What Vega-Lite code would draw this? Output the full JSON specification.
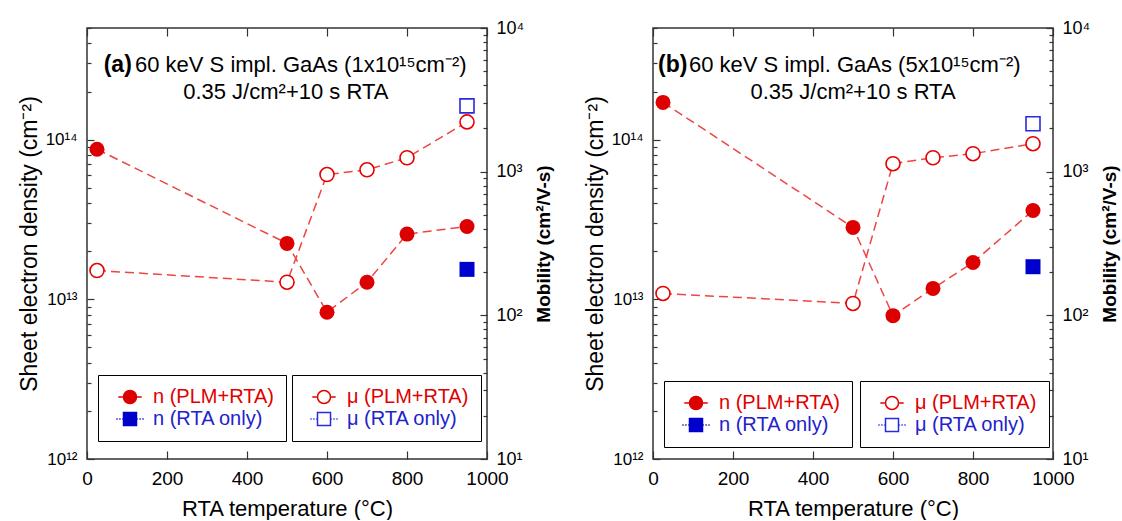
{
  "$schema": "https://vega.github.io/schema/vega-lite/v6.json",
  "background": "white",
  "padding": {"left": 17, "top": 18, "right": 0, "bottom": 0},
  "spacing": 28,
  "datasets": {
    "pa": [
      {"series": "n (PLM+RTA)", "T": 25, "v": 8.7e13},
      {"series": "n (PLM+RTA)", "T": 500, "v": 2.24e13},
      {"series": "n (PLM+RTA)", "T": 600, "v": 8.3e12},
      {"series": "n (PLM+RTA)", "T": 700, "v": 1.28e13},
      {"series": "n (PLM+RTA)", "T": 800, "v": 2.56e13},
      {"series": "n (PLM+RTA)", "T": 950, "v": 2.86e13},
      {"series": "n (RTA only)", "T": 950, "v": 1.54e13},
      {"series": "μ (PLM+RTA)", "T": 25, "v": 205},
      {"series": "μ (PLM+RTA)", "T": 500, "v": 170},
      {"series": "μ (PLM+RTA)", "T": 600, "v": 955},
      {"series": "μ (PLM+RTA)", "T": 700, "v": 1030},
      {"series": "μ (PLM+RTA)", "T": 800, "v": 1250},
      {"series": "μ (PLM+RTA)", "T": 950, "v": 2220},
      {"series": "μ (RTA only)", "T": 950, "v": 2870}
    ],
    "pb": [
      {"series": "n (PLM+RTA)", "T": 25, "v": 1.71e14},
      {"series": "n (PLM+RTA)", "T": 500, "v": 2.82e13},
      {"series": "n (PLM+RTA)", "T": 600, "v": 7.9e12},
      {"series": "n (PLM+RTA)", "T": 700, "v": 1.17e13},
      {"series": "n (PLM+RTA)", "T": 800, "v": 1.7e13},
      {"series": "n (PLM+RTA)", "T": 950, "v": 3.6e13},
      {"series": "n (RTA only)", "T": 950, "v": 1.6e13},
      {"series": "μ (PLM+RTA)", "T": 25, "v": 142},
      {"series": "μ (PLM+RTA)", "T": 500, "v": 121},
      {"series": "μ (PLM+RTA)", "T": 600, "v": 1136},
      {"series": "μ (PLM+RTA)", "T": 700, "v": 1250},
      {"series": "μ (PLM+RTA)", "T": 800, "v": 1333},
      {"series": "μ (PLM+RTA)", "T": 950, "v": 1565},
      {"series": "μ (RTA only)", "T": 950, "v": 2155}
    ]
  },
  "hconcat": [
    {
      "width": 400,
      "height": 431,
      "data": {"name": "pa"},
      "layer": [
        {
          "layer": [
            {"transform": [{"filter": "datum.series == 'n (PLM+RTA)'"}],
             "mark": {"type": "line", "color": "#ee4444", "strokeDash": [9, 5], "strokeWidth": 1.5},
             "encoding": {
               "x": {"field": "T", "type": "quantitative", "scale": {"domain": [0, 1000], "nice": false, "zero": false},
                 "axis": {"orient": "bottom", "title": "RTA temperature (°C)", "values": [0,50,100,150,200,250,300,350,400,450,500,550,600,650,700,750,800,850,900,950,1000],
                   "labelExpr": "datum.value % 200 == 0 ? format(datum.value, 'd') : ''",
                   "tickSize": -8, "tickDash": {"condition": {"test": "datum.value % 200 == 0", "value": [10, 0]}, "value": [4, 20]},
                   "labelPadding": 18, "labelFontSize": 19, "labelFont": "Liberation Sans", "labelColor": "#000", "labelFlush": false, "labelOverlap": false,
                   "titleFontSize": 22, "titleFont": "Liberation Sans", "titleFontWeight": "normal", "titleColor": "#000", "titlePadding": 10,
                   "domain": false, "grid": false, "tickColor": "#333", "tickWidth": 1.2}},
               "y": {"field": "v", "type": "quantitative", "scale": {"type": "log", "domain": [1e12, 5e14], "nice": false},
                 "axis": {"orient": "left", "title": "Sheet electron density (cm⁻²)",
                   "values": [1e12,2e12,3e12,4e12,5e12,6e12,7e12,8e12,9e12,1e13,2e13,3e13,4e13,5e13,6e13,7e13,8e13,9e13,1e14,2e14,3e14,4e14,5e14],
                   "labelExpr": "datum.value == 1e12 ? '10¹²' : datum.value == 1e13 ? '10¹³' : datum.value == 1e14 ? '10¹⁴' : ''",
                   "tickSize": -7, "tickDash": {"condition": {"test": "datum.value == 1e12 || datum.value == 1e13 || datum.value == 1e14", "value": [10, 0]}, "value": [4, 20]},
                   "labelPadding": 17, "labelFontSize": 17, "labelFont": "Liberation Sans", "labelColor": "#000", "labelFlush": false, "labelOverlap": false,
                   "titleFontSize": 23, "titleFont": "Liberation Sans", "titleFontWeight": "normal", "titleColor": "#000", "titlePadding": 4,
                   "domain": false, "grid": false, "tickColor": "#333", "tickWidth": 1.2}}
             }},
            {"transform": [{"filter": "datum.series == 'n (PLM+RTA)'"}],
             "mark": {"type": "point", "shape": "circle", "filled": true, "size": 225, "opacity": 1},
             "encoding": {
               "x": {"field": "T", "type": "quantitative"},
               "y": {"field": "v", "type": "quantitative"},
               "color": {"field": "series", "type": "nominal", "scale": {"domain": ["n (PLM+RTA)", "n (RTA only)"], "range": ["#dd0000", "#0000cc"]},
                 "legend": {"orient": "none", "legendX": 11, "legendY": 347, "title": null, "padding": 12, "symbolOffset": 10, "labelOffset": 13, "rowPadding": 2,
                   "strokeColor": "#000", "fillColor": "white", "symbolSize": 169, "symbolStrokeWidth": 1.5,
                   "labelFont": "Liberation Sans", "labelFontSize": 20, "labelLimit": 300,
                   "labelExpr": "datum.label + '\u00a0\u00a0'",
                   "labelColor": {"expr": "indexof(datum.value, 'RTA only') >= 0 ? '#2222cc' : '#e00000'"},
                   "symbolStrokeColor": {"expr": "datum.value == 'n (RTA only)' ? '#0000cc' : '#dd0000'"},
                   "symbolType": {"expr": "datum.value == 'n (RTA only)' ? 'M-2.1,0H-1.9M-1.65,0H-1.45M-1.2,0H-1M1,0H1.2M1.45,0H1.65M1.9,0H2.1M-1,-1H1V1H-1Z' : 'M-1.8,0H-1M1,0H1.8M-1,0A1,1 0 1,1 1,0A1,1 0 1,1 -1,0Z'"}}}
             }},
            {"transform": [{"filter": "datum.series == 'n (RTA only)'"}],
             "mark": {"type": "point", "shape": "square", "filled": true, "size": 225, "opacity": 1},
             "encoding": {
               "x": {"field": "T", "type": "quantitative"},
               "y": {"field": "v", "type": "quantitative"},
               "color": {"field": "series", "type": "nominal", "scale": {"domain": ["n (PLM+RTA)", "n (RTA only)"], "range": ["#dd0000", "#0000cc"]},
                 "legend": {"orient": "none", "legendX": 11, "legendY": 347, "title": null, "padding": 12, "symbolOffset": 10, "labelOffset": 13, "rowPadding": 2,
                   "strokeColor": "#000", "fillColor": "white", "symbolSize": 169, "symbolStrokeWidth": 1.5,
                   "labelFont": "Liberation Sans", "labelFontSize": 20, "labelLimit": 300,
                   "labelExpr": "datum.label + '\u00a0\u00a0'",
                   "labelColor": {"expr": "indexof(datum.value, 'RTA only') >= 0 ? '#2222cc' : '#e00000'"},
                   "symbolStrokeColor": {"expr": "datum.value == 'n (RTA only)' ? '#0000cc' : '#dd0000'"},
                   "symbolType": {"expr": "datum.value == 'n (RTA only)' ? 'M-2.1,0H-1.9M-1.65,0H-1.45M-1.2,0H-1M1,0H1.2M1.45,0H1.65M1.9,0H2.1M-1,-1H1V1H-1Z' : 'M-1.8,0H-1M1,0H1.8M-1,0A1,1 0 1,1 1,0A1,1 0 1,1 -1,0Z'"}}}
             }},
            {"data": {"values": [{}]}, "mark": {"type": "text", "align": "right", "baseline": "middle", "font": "Liberation Sans", "fontSize": 23, "fontWeight": "bold", "color": "#000"},
             "encoding": {"x": {"datum": 112, "type": "quantitative"}, "y": {"datum": 2.94e14, "type": "quantitative"}, "text": {"value": "(a)"}}},
            {"data": {"values": [{}]}, "mark": {"type": "text", "align": "left", "baseline": "middle", "font": "Liberation Sans", "fontSize": 22, "color": "#000"},
             "encoding": {"x": {"datum": 120, "type": "quantitative"}, "y": {"datum": 2.94e14, "type": "quantitative"}, "text": {"value": "60 keV S impl. GaAs (1x10¹⁵cm⁻²)"}}},
            {"data": {"values": [{}]}, "mark": {"type": "text", "align": "center", "baseline": "middle", "font": "Liberation Sans", "fontSize": 22, "color": "#000"},
             "encoding": {"x": {"datum": 497, "type": "quantitative"}, "y": {"datum": 2.0e14, "type": "quantitative"}, "text": {"value": "0.35 J/cm²+10 s RTA"}}}
          ]
        },
        {
          "layer": [
            {"transform": [{"filter": "datum.series == 'μ (PLM+RTA)'"}],
             "mark": {"type": "line", "color": "#ee4444", "strokeDash": [9, 5], "strokeWidth": 1.5},
             "encoding": {
               "x": {"field": "T", "type": "quantitative", "scale": {"domain": [0, 1000], "nice": false, "zero": false},
                 "axis": {"orient": "top", "title": null, "labels": false, "values": [0,50,100,150,200,250,300,350,400,450,500,550,600,650,700,750,800,850,900,950,1000],
                   "tickSize": -8, "tickDash": {"condition": {"test": "datum.value % 200 == 0", "value": [10, 0]}, "value": [4, 20]},
                   "domain": false, "grid": false, "tickColor": "#333", "tickWidth": 1.2}},
               "y": {"field": "v", "type": "quantitative", "scale": {"type": "log", "domain": [10, 10000], "nice": false},
                 "axis": {"orient": "right", "title": "Mobility (cm²/V-s)",
                   "values": [10,20,30,40,50,60,70,80,90,100,200,300,400,500,600,700,800,900,1000,2000,3000,4000,5000,6000,7000,8000,9000,10000],
                   "labelExpr": "datum.value == 10 ? '10¹' : datum.value == 100 ? '10²' : datum.value == 1000 ? '10³' : datum.value == 10000 ? '10⁴' : ''",
                   "tickSize": -7, "tickDash": {"condition": {"test": "datum.value == 10 || datum.value == 100 || datum.value == 1000 || datum.value == 10000", "value": [10, 0]}, "value": [4, 20]},
                   "labelPadding": 16, "labelFontSize": 18, "labelFont": "Liberation Sans", "labelColor": "#000", "labelFlush": false, "labelOverlap": false,
                   "titleFontSize": 19, "titleFont": "Liberation Sans", "titleFontWeight": "bold", "titleColor": "#000", "titlePadding": 11, "titleAngle": 270, "titleBaseline": "top",
                   "domain": false, "grid": false, "tickColor": "#333", "tickWidth": 1.2}}
             }},
            {"transform": [{"filter": "datum.series == 'μ (PLM+RTA)'"}],
             "mark": {"type": "point", "shape": "circle", "filled": false, "fill": "white", "size": 196, "strokeWidth": 1.6, "opacity": 1},
             "encoding": {
               "x": {"field": "T", "type": "quantitative"},
               "y": {"field": "v", "type": "quantitative"},
               "color": {"field": "series", "type": "nominal", "scale": {"domain": ["μ (PLM+RTA)", "μ (RTA only)"], "range": ["#e60000", "#2a2ae0"]},
                 "legend": {"orient": "none", "legendX": 205, "legendY": 347, "title": null, "padding": 12, "symbolOffset": 10, "labelOffset": 13, "rowPadding": 2,
                   "strokeColor": "#000", "fillColor": "white", "symbolSize": 169, "symbolStrokeWidth": 1.5,
                   "labelFont": "Liberation Sans", "labelFontSize": 20, "labelLimit": 300,
                   "labelColor": {"expr": "indexof(datum.value, 'RTA only') >= 0 ? '#2222cc' : '#e00000'"},
                   "symbolType": {"expr": "datum.value == 'μ (RTA only)' ? 'M-2.1,0H-1.9M-1.65,0H-1.45M-1.2,0H-1M1,0H1.2M1.45,0H1.65M1.9,0H2.1M-1,-1H1V1H-1Z' : 'M-1.8,0H-1M1,0H1.8M-1,0A1,1 0 1,1 1,0A1,1 0 1,1 -1,0Z'"}}}
             }},
            {"transform": [{"filter": "datum.series == 'μ (RTA only)'"}],
             "mark": {"type": "point", "shape": "square", "filled": false, "fill": "white", "size": 196, "strokeWidth": 1.6, "opacity": 1},
             "encoding": {
               "x": {"field": "T", "type": "quantitative"},
               "y": {"field": "v", "type": "quantitative"},
               "color": {"field": "series", "type": "nominal", "scale": {"domain": ["μ (PLM+RTA)", "μ (RTA only)"], "range": ["#e60000", "#2a2ae0"]},
                 "legend": {"orient": "none", "legendX": 205, "legendY": 347, "title": null, "padding": 12, "symbolOffset": 10, "labelOffset": 13, "rowPadding": 2,
                   "strokeColor": "#000", "fillColor": "white", "symbolSize": 169, "symbolStrokeWidth": 1.5,
                   "labelFont": "Liberation Sans", "labelFontSize": 20, "labelLimit": 300,
                   "labelColor": {"expr": "indexof(datum.value, 'RTA only') >= 0 ? '#2222cc' : '#e00000'"},
                   "symbolType": {"expr": "datum.value == 'μ (RTA only)' ? 'M-2.1,0H-1.9M-1.65,0H-1.45M-1.2,0H-1M1,0H1.2M1.45,0H1.65M1.9,0H2.1M-1,-1H1V1H-1Z' : 'M-1.8,0H-1M1,0H1.8M-1,0A1,1 0 1,1 1,0A1,1 0 1,1 -1,0Z'"}}}
             }}
          ]
        }
      ],
      "resolve": {"scale": {"x": "independent", "y": "independent", "color": "independent"}}
    },
    {
      "width": 400,
      "height": 431,
      "data": {"name": "pb"},
      "layer": [
        {
          "layer": [
            {"transform": [{"filter": "datum.series == 'n (PLM+RTA)'"}],
             "mark": {"type": "line", "color": "#ee4444", "strokeDash": [9, 5], "strokeWidth": 1.5},
             "encoding": {
               "x": {"field": "T", "type": "quantitative", "scale": {"domain": [0, 1000], "nice": false, "zero": false},
                 "axis": {"orient": "bottom", "title": "RTA temperature (°C)", "values": [0,50,100,150,200,250,300,350,400,450,500,550,600,650,700,750,800,850,900,950,1000],
                   "labelExpr": "datum.value % 200 == 0 ? format(datum.value, 'd') : ''",
                   "tickSize": -8, "tickDash": {"condition": {"test": "datum.value % 200 == 0", "value": [10, 0]}, "value": [4, 20]},
                   "labelPadding": 18, "labelFontSize": 19, "labelFont": "Liberation Sans", "labelColor": "#000", "labelFlush": false, "labelOverlap": false,
                   "titleFontSize": 22, "titleFont": "Liberation Sans", "titleFontWeight": "normal", "titleColor": "#000", "titlePadding": 10,
                   "domain": false, "grid": false, "tickColor": "#333", "tickWidth": 1.2}},
               "y": {"field": "v", "type": "quantitative", "scale": {"type": "log", "domain": [1e12, 5e14], "nice": false},
                 "axis": {"orient": "left", "title": "Sheet electron density (cm⁻²)",
                   "values": [1e12,2e12,3e12,4e12,5e12,6e12,7e12,8e12,9e12,1e13,2e13,3e13,4e13,5e13,6e13,7e13,8e13,9e13,1e14,2e14,3e14,4e14,5e14],
                   "labelExpr": "datum.value == 1e12 ? '10¹²' : datum.value == 1e13 ? '10¹³' : datum.value == 1e14 ? '10¹⁴' : ''",
                   "tickSize": -7, "tickDash": {"condition": {"test": "datum.value == 1e12 || datum.value == 1e13 || datum.value == 1e14", "value": [10, 0]}, "value": [4, 20]},
                   "labelPadding": 17, "labelFontSize": 17, "labelFont": "Liberation Sans", "labelColor": "#000", "labelFlush": false, "labelOverlap": false,
                   "titleFontSize": 23, "titleFont": "Liberation Sans", "titleFontWeight": "normal", "titleColor": "#000", "titlePadding": 4,
                   "domain": false, "grid": false, "tickColor": "#333", "tickWidth": 1.2}}
             }},
            {"transform": [{"filter": "datum.series == 'n (PLM+RTA)'"}],
             "mark": {"type": "point", "shape": "circle", "filled": true, "size": 225, "opacity": 1},
             "encoding": {
               "x": {"field": "T", "type": "quantitative"},
               "y": {"field": "v", "type": "quantitative"},
               "color": {"field": "series", "type": "nominal", "scale": {"domain": ["n (PLM+RTA)", "n (RTA only)"], "range": ["#dd0000", "#0000cc"]},
                 "legend": {"orient": "none", "legendX": 11, "legendY": 353, "title": null, "padding": 12, "symbolOffset": 10, "labelOffset": 13, "rowPadding": 2,
                   "strokeColor": "#000", "fillColor": "white", "symbolSize": 169, "symbolStrokeWidth": 1.5,
                   "labelFont": "Liberation Sans", "labelFontSize": 20, "labelLimit": 300,
                   "labelExpr": "datum.label + '\u00a0\u00a0'",
                   "labelColor": {"expr": "indexof(datum.value, 'RTA only') >= 0 ? '#2222cc' : '#e00000'"},
                   "symbolStrokeColor": {"expr": "datum.value == 'n (RTA only)' ? '#0000cc' : '#dd0000'"},
                   "symbolType": {"expr": "datum.value == 'n (RTA only)' ? 'M-2.1,0H-1.9M-1.65,0H-1.45M-1.2,0H-1M1,0H1.2M1.45,0H1.65M1.9,0H2.1M-1,-1H1V1H-1Z' : 'M-1.8,0H-1M1,0H1.8M-1,0A1,1 0 1,1 1,0A1,1 0 1,1 -1,0Z'"}}}
             }},
            {"transform": [{"filter": "datum.series == 'n (RTA only)'"}],
             "mark": {"type": "point", "shape": "square", "filled": true, "size": 225, "opacity": 1},
             "encoding": {
               "x": {"field": "T", "type": "quantitative"},
               "y": {"field": "v", "type": "quantitative"},
               "color": {"field": "series", "type": "nominal", "scale": {"domain": ["n (PLM+RTA)", "n (RTA only)"], "range": ["#dd0000", "#0000cc"]},
                 "legend": {"orient": "none", "legendX": 11, "legendY": 353, "title": null, "padding": 12, "symbolOffset": 10, "labelOffset": 13, "rowPadding": 2,
                   "strokeColor": "#000", "fillColor": "white", "symbolSize": 169, "symbolStrokeWidth": 1.5,
                   "labelFont": "Liberation Sans", "labelFontSize": 20, "labelLimit": 300,
                   "labelExpr": "datum.label + '\u00a0\u00a0'",
                   "labelColor": {"expr": "indexof(datum.value, 'RTA only') >= 0 ? '#2222cc' : '#e00000'"},
                   "symbolStrokeColor": {"expr": "datum.value == 'n (RTA only)' ? '#0000cc' : '#dd0000'"},
                   "symbolType": {"expr": "datum.value == 'n (RTA only)' ? 'M-2.1,0H-1.9M-1.65,0H-1.45M-1.2,0H-1M1,0H1.2M1.45,0H1.65M1.9,0H2.1M-1,-1H1V1H-1Z' : 'M-1.8,0H-1M1,0H1.8M-1,0A1,1 0 1,1 1,0A1,1 0 1,1 -1,0Z'"}}}
             }},
            {"data": {"values": [{}]}, "mark": {"type": "text", "align": "right", "baseline": "middle", "font": "Liberation Sans", "fontSize": 23, "fontWeight": "bold", "color": "#000"},
             "encoding": {"x": {"datum": 86, "type": "quantitative"}, "y": {"datum": 2.94e14, "type": "quantitative"}, "text": {"value": "(b)"}}},
            {"data": {"values": [{}]}, "mark": {"type": "text", "align": "left", "baseline": "middle", "font": "Liberation Sans", "fontSize": 22, "color": "#000"},
             "encoding": {"x": {"datum": 90, "type": "quantitative"}, "y": {"datum": 2.94e14, "type": "quantitative"}, "text": {"value": "60 keV S impl. GaAs (5x10¹⁵cm⁻²)"}}},
            {"data": {"values": [{}]}, "mark": {"type": "text", "align": "center", "baseline": "middle", "font": "Liberation Sans", "fontSize": 22, "color": "#000"},
             "encoding": {"x": {"datum": 500, "type": "quantitative"}, "y": {"datum": 2.0e14, "type": "quantitative"}, "text": {"value": "0.35 J/cm²+10 s RTA"}}}
          ]
        },
        {
          "layer": [
            {"transform": [{"filter": "datum.series == 'μ (PLM+RTA)'"}],
             "mark": {"type": "line", "color": "#ee4444", "strokeDash": [9, 5], "strokeWidth": 1.5},
             "encoding": {
               "x": {"field": "T", "type": "quantitative", "scale": {"domain": [0, 1000], "nice": false, "zero": false},
                 "axis": {"orient": "top", "title": null, "labels": false, "values": [0,50,100,150,200,250,300,350,400,450,500,550,600,650,700,750,800,850,900,950,1000],
                   "tickSize": -8, "tickDash": {"condition": {"test": "datum.value % 200 == 0", "value": [10, 0]}, "value": [4, 20]},
                   "domain": false, "grid": false, "tickColor": "#333", "tickWidth": 1.2}},
               "y": {"field": "v", "type": "quantitative", "scale": {"type": "log", "domain": [10, 10000], "nice": false},
                 "axis": {"orient": "right", "title": "Mobility (cm²/V-s)",
                   "values": [10,20,30,40,50,60,70,80,90,100,200,300,400,500,600,700,800,900,1000,2000,3000,4000,5000,6000,7000,8000,9000,10000],
                   "labelExpr": "datum.value == 10 ? '10¹' : datum.value == 100 ? '10²' : datum.value == 1000 ? '10³' : datum.value == 10000 ? '10⁴' : ''",
                   "tickSize": -7, "tickDash": {"condition": {"test": "datum.value == 10 || datum.value == 100 || datum.value == 1000 || datum.value == 10000", "value": [10, 0]}, "value": [4, 20]},
                   "labelPadding": 16, "labelFontSize": 18, "labelFont": "Liberation Sans", "labelColor": "#000", "labelFlush": false, "labelOverlap": false,
                   "titleFontSize": 19, "titleFont": "Liberation Sans", "titleFontWeight": "bold", "titleColor": "#000", "titlePadding": 11, "titleAngle": 270, "titleBaseline": "top",
                   "domain": false, "grid": false, "tickColor": "#333", "tickWidth": 1.2}}
             }},
            {"transform": [{"filter": "datum.series == 'μ (PLM+RTA)'"}],
             "mark": {"type": "point", "shape": "circle", "filled": false, "fill": "white", "size": 196, "strokeWidth": 1.6, "opacity": 1},
             "encoding": {
               "x": {"field": "T", "type": "quantitative"},
               "y": {"field": "v", "type": "quantitative"},
               "color": {"field": "series", "type": "nominal", "scale": {"domain": ["μ (PLM+RTA)", "μ (RTA only)"], "range": ["#e60000", "#2a2ae0"]},
                 "legend": {"orient": "none", "legendX": 207, "legendY": 353, "title": null, "padding": 12, "symbolOffset": 10, "labelOffset": 13, "rowPadding": 2,
                   "strokeColor": "#000", "fillColor": "white", "symbolSize": 169, "symbolStrokeWidth": 1.5,
                   "labelFont": "Liberation Sans", "labelFontSize": 20, "labelLimit": 300,
                   "labelColor": {"expr": "indexof(datum.value, 'RTA only') >= 0 ? '#2222cc' : '#e00000'"},
                   "symbolType": {"expr": "datum.value == 'μ (RTA only)' ? 'M-2.1,0H-1.9M-1.65,0H-1.45M-1.2,0H-1M1,0H1.2M1.45,0H1.65M1.9,0H2.1M-1,-1H1V1H-1Z' : 'M-1.8,0H-1M1,0H1.8M-1,0A1,1 0 1,1 1,0A1,1 0 1,1 -1,0Z'"}}}
             }},
            {"transform": [{"filter": "datum.series == 'μ (RTA only)'"}],
             "mark": {"type": "point", "shape": "square", "filled": false, "fill": "white", "size": 196, "strokeWidth": 1.6, "opacity": 1},
             "encoding": {
               "x": {"field": "T", "type": "quantitative"},
               "y": {"field": "v", "type": "quantitative"},
               "color": {"field": "series", "type": "nominal", "scale": {"domain": ["μ (PLM+RTA)", "μ (RTA only)"], "range": ["#e60000", "#2a2ae0"]},
                 "legend": {"orient": "none", "legendX": 207, "legendY": 353, "title": null, "padding": 12, "symbolOffset": 10, "labelOffset": 13, "rowPadding": 2,
                   "strokeColor": "#000", "fillColor": "white", "symbolSize": 169, "symbolStrokeWidth": 1.5,
                   "labelFont": "Liberation Sans", "labelFontSize": 20, "labelLimit": 300,
                   "labelColor": {"expr": "indexof(datum.value, 'RTA only') >= 0 ? '#2222cc' : '#e00000'"},
                   "symbolType": {"expr": "datum.value == 'μ (RTA only)' ? 'M-2.1,0H-1.9M-1.65,0H-1.45M-1.2,0H-1M1,0H1.2M1.45,0H1.65M1.9,0H2.1M-1,-1H1V1H-1Z' : 'M-1.8,0H-1M1,0H1.8M-1,0A1,1 0 1,1 1,0A1,1 0 1,1 -1,0Z'"}}}
             }}
          ]
        }
      ],
      "resolve": {"scale": {"x": "independent", "y": "independent", "color": "independent"}}
    }
  ],
  "resolve": {"scale": {"color": "independent"}},
  "config": {
    "view": {"stroke": "#333", "strokeWidth": 1.5},
    "font": "Liberation Sans"
  }
}
